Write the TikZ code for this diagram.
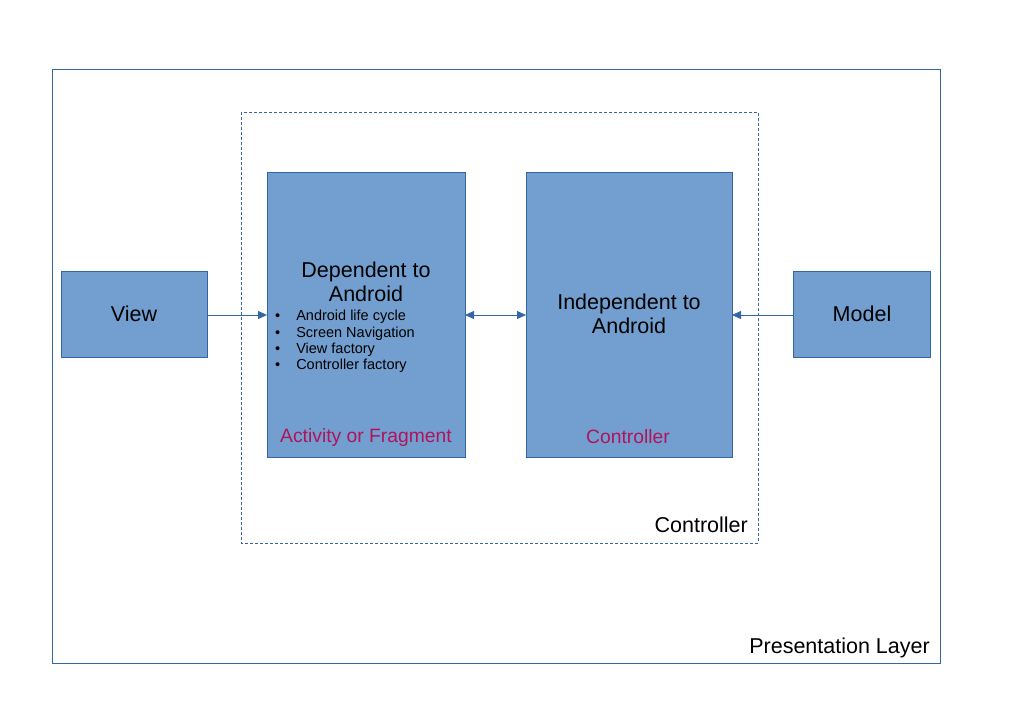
\documentclass[tikz,border=0pt]{standalone}
\usepackage{fontspec}
\setmainfont{Liberation Sans}
\usetikzlibrary{arrows.meta}
\definecolor{boxfill}{HTML}{729FCF}
\definecolor{boxline}{HTML}{3465A4}
\definecolor{lab}{HTML}{B0145C}
\begin{document}
\begin{tikzpicture}[x=1pt,y=-1pt,
  blk/.style={draw=boxline,fill=boxfill,line width=0.8pt},
  conn/.style={draw=boxline,line width=0.8pt},
  tip/.style={-{Triangle[length=9pt,width=8pt]}},
  big/.style={font=\fontsize{21.5pt}{24.5pt}\selectfont},
  ]
\useasboundingbox (0,0) rectangle (1024,724);
\fill[white] (0,0) rectangle (1024,724);
\draw[boxline,line width=0.8pt] (52,69) rectangle (940,663);
\node[anchor=base east,big,inner sep=0pt] (pl) at (930,653) {Presentation Layer};
\draw[boxline,line width=0.8pt,dash pattern=on 3pt off 2pt] (241,112) rectangle (758,543);
\node[anchor=base east,big,inner sep=0pt] (cl) at (748,532) {Controller};

\path[blk] (61,271) rectangle (207,357);
\node[big] (view) at (134,314) {View};
\coordinate (viewR) at (207,315);

\path[blk] (267,172) rectangle (465,457);
\node[big,align=center] (dep) at (366,282) {Dependent to\\Android};
\node[anchor=north west,font=\fontsize{14.5pt}{16.4pt}\selectfont,align=left,inner sep=0pt] (bul) at (275,310)
  {\textbullet\hspace{16pt}Android life cycle\\
   \textbullet\hspace{16pt}Screen Navigation\\
   \textbullet\hspace{16pt}View factory\\
   \textbullet\hspace{16pt}Controller factory};
\node[font=\fontsize{19.3pt}{22pt}\selectfont,text=lab] (act) at (366,437) {Activity or Fragment};
\coordinate (depL) at (267,315);
\coordinate (depR) at (465,315);

\path[blk] (526,172) rectangle (732,457);
\node[big,align=center] (ind) at (629,314) {Independent to\\Android};
\node[font=\fontsize{19.3pt}{22pt}\selectfont,text=lab] (ctl) at (628,437) {Controller};
\coordinate (indL) at (526,315);
\coordinate (indR) at (732,315);

\path[blk] (793,271) rectangle (930,357);
\node[big] (model) at (862,314) {Model};
\coordinate (modL) at (793,315);

\draw[conn,tip,fill=boxline] (viewR) -- (depL);
\draw[conn,{Triangle[length=9pt,width=8pt]}-{Triangle[length=9pt,width=8pt]},fill=boxline] (depR) -- (indL);
\draw[conn,tip,fill=boxline] (modL) -- (indR);
\end{tikzpicture}
\end{document}
